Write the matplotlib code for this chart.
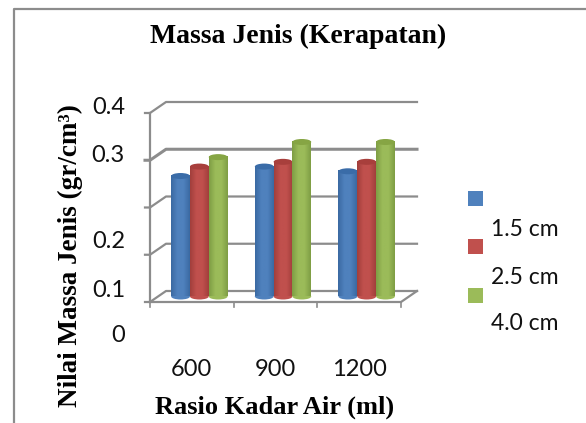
import numpy as np
import matplotlib
matplotlib.use('Agg')
import matplotlib.pyplot as plt
from matplotlib.patches import Ellipse, Rectangle
from matplotlib.colors import LinearSegmentedColormap

# Datos
kategori = ['600', '900', '1200']
seri = ['1.5 cm', '2.5 cm', '4.0 cm']
nilai_15 = [0.255, 0.275, 0.265]
nilai_25 = [0.275, 0.285, 0.285]
nilai_40 = [0.295, 0.327, 0.327]
grid_y = [0, 0.1, 0.2, 0.3, 0.4]
label_y = ['0.4', '0.3', '0.2', '0.1', '0']
label_y_pos = [0.411, 0.311, 0.127, 0.025, -0.07]

warna = ['#4F81BD', '#C0504D', '#9BBB59']
warna_gelap = ['#3B6AA3', '#A23F3C', '#7F9E45']
warna_atas = ['#3A6CA8', '#A83F3C', '#86A544']

W, H = 586, 423
fig = plt.figure(figsize=(W / 100, H / 100), dpi=100)

# area frontal del grafico en pixeles
x0, x1, y_base, y_top = 150, 401, 302, 113
ax = fig.add_axes([x0 / W, 1 - y_base / H, (x1 - x0) / W, (y_base - y_top) / H])
ax.set_xlim(0, 3)
ax.set_ylim(0, 0.4)
ax.axis('off')

px_x = 3 / (x1 - x0)
px_y = 0.4 / (y_base - y_top)
dx, dy = 16 * px_x, 11 * px_y  # profundidad 3D
abu = '#8C8C8C'

# paredes y rejilla
for g in grid_y:
    tebal = 2.2 if g == 0.3 else 1.6
    ax.plot([-5 * px_x, 0, dx, 3 + dx], [g, g, g + dy, g + dy], color=abu, lw=tebal, clip_on=False, zorder=1)
ax.plot([0, 0], [0, 0.4], color=abu, lw=1.6, clip_on=False, zorder=1)
ax.plot([0, 3, 3 + dx], [0, 0, dy], color=abu, lw=1.6, clip_on=False, zorder=1)
for i in range(4):
    ax.plot([i, i], [0, -5 * px_y], color=abu, lw=1.2, clip_on=False, zorder=1)

# barras cilindricas
lebar = 18.8 * px_x
geser = 0.5 * dy
for i, nilai in enumerate([nilai_15, nilai_25, nilai_40]):
    cmap = LinearSegmentedColormap.from_list('c', [warna_gelap[i], warna[i], warna[i], warna_gelap[i]])
    for j, v in enumerate(nilai):
        xc = j + 0.5 + 0.09 + (i - 1) * lebar
        alas = geser
        atas = v + geser
        ry = 3 * px_y
        ax.add_patch(Ellipse((xc, alas), lebar, 2 * ry, color=warna[i], zorder=3 + i, lw=0))
        ax.imshow(np.linspace(0, 1, 32).reshape(1, -1), cmap=cmap, aspect='auto', zorder=3 + i,
                  extent=[xc - lebar / 2, xc + lebar / 2, alas, atas])
        ax.add_patch(Ellipse((xc, atas), lebar, 2 * ry, color=warna_atas[i], zorder=3 + i, lw=0))
ax.set_xlim(0, 3)
ax.set_ylim(0, 0.4)

# etiquetas de los ejes
for t, p in zip(label_y, label_y_pos):
    ax.text(-25 * px_x, p, t, ha='right', va='center', fontsize=17, family='Lato', color='#111111', clip_on=False)
for j, t in enumerate(kategori):
    ax.text(j + 0.5, -67 * px_y, t, ha='center', va='center', fontsize=17, family='Lato', color='#111111', clip_on=False)

fig.text(298 / W, 1 - 36 / H, 'Massa Jenis (Kerapatan)', ha='center', va='center', fontsize=20,
         fontweight='bold', family='Liberation Serif')
fig.text(275 / W, 1 - 407 / H, 'Rasio Kadar Air (ml)', ha='center', va='center', fontsize=19,
         fontweight='bold', family='Liberation Serif')
fig.text(70 / W, 1 - 256 / H, 'Nilai Massa Jenis (gr/cm³)', ha='center', va='center', rotation=90,
         fontsize=19.5, fontweight='bold', family='Liberation Serif')

# leyenda
for i, (s, yk, yt) in enumerate(zip(seri, [191, 239, 288], [229, 277, 323])):
    fig.add_artist(Rectangle((468 / W, 1 - (yk + 15) / H), 15 / W, 15 / H, color=warna[i], lw=0,
                             transform=fig.transFigure))
    fig.text(491 / W, 1 - yt / H, s, ha='left', va='center', fontsize=16.5, family='Lato', color='#111111')

# borde
fig.add_artist(plt.Line2D([14 / W, 14 / W, 1], [0, 1 - 9 / H, 1 - 9 / H], color=abu, lw=1.6))

fig.savefig('out.png', dpi=100)
